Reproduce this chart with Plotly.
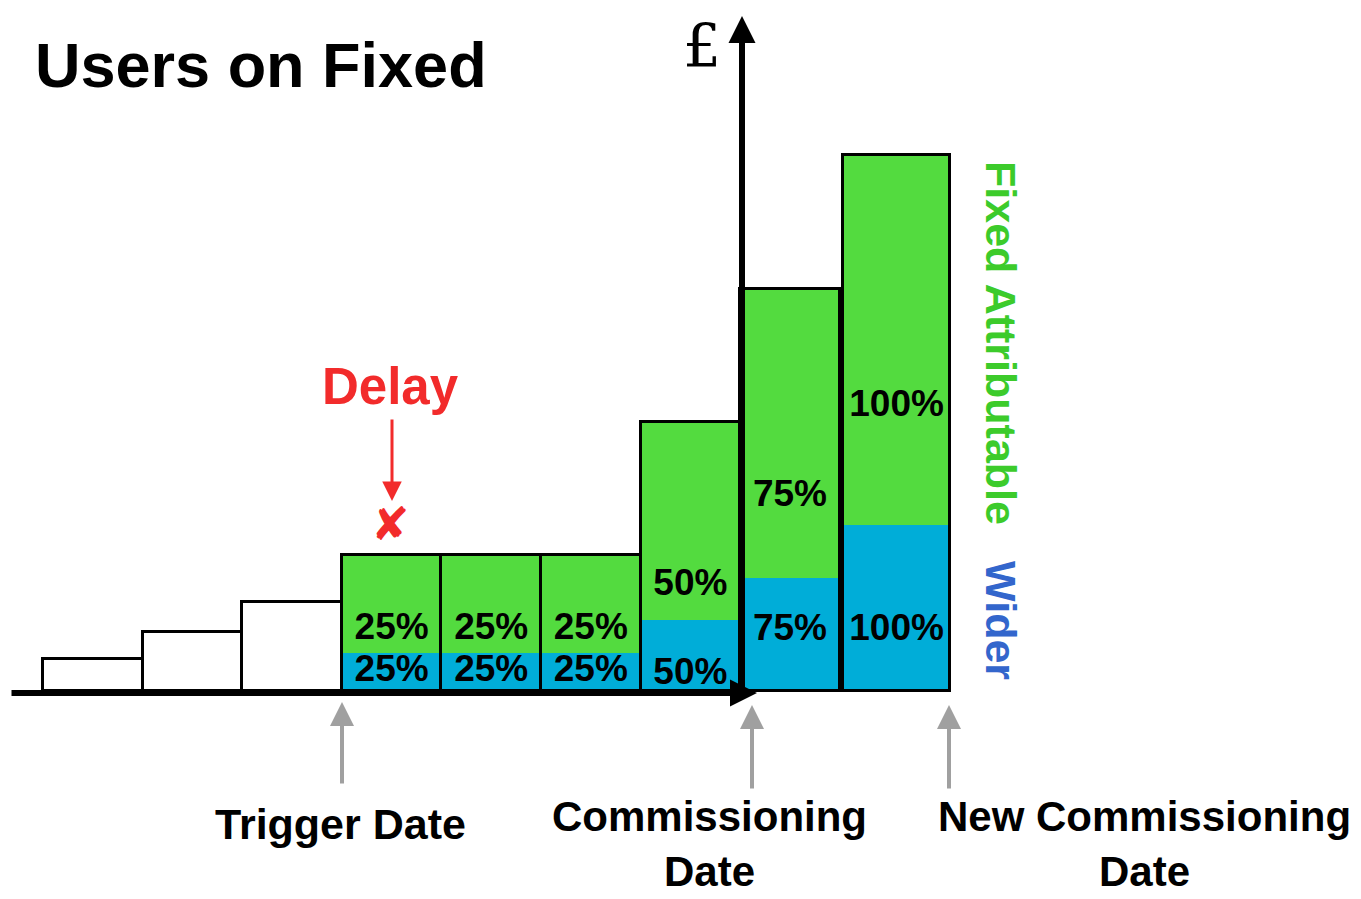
import plotly.graph_objects as go

# periods along the time axis, with the height of each payment bar (in £ units)
periods = ["P1", "P2", "P3", "P4", "P5", "P6", "P7", "P8", "P9"]
total = [32, 59, 89, 136, 136, 136, 269, 402, 536]
wider = [0, 0, 0, 38, 38, 38, 71, 113, 166]
wider_pct = ["", "", "", "25%", "25%", "25%", "50%", "75%", "100%"]
fixed_pct = ["", "", "", "25%", "25%", "25%", "50%", "75%", "100%"]

W, H = 1361, 899
OFF = 8  # page body margin
GREEN = "#53DB3F"
BLUE = "#00ADD8"
FONT = "Liberation Sans"

# bar widths (last one a bit wider and set slightly apart)
widths = [1.0] * 8 + [1.08]
gaps = [0.0] * 8 + [0.03]
centres = []
edge = 0.0
for w, g in zip(widths, gaps):
    edge += g
    centres.append(edge + w / 2)
    edge += w

fixed = [t - b for t, b in zip(total, wider)]
coloured = [b > 0 for b in wider]
white_y = [t if not c else 0 for t, c in zip(total, coloured)]
blue_y = [b if c else 0 for b, c in zip(wider, coloured)]
green_y = [f if c else 0 for f, c in zip(fixed, coloured)]

# where the percentage labels sit inside the bars
wider_lab_y = [0, 0, 0, 19, 19, 19, 16, 60, 60]
fixed_lab_y = [0, 0, 0, 61, 61, 61, 105, 194, 284]

fig = go.Figure()
fig.add_trace(go.Bar(x=centres, y=white_y, width=widths, marker=dict(color="white", line=dict(width=0))))
fig.add_trace(go.Bar(x=centres, y=blue_y, width=widths, marker=dict(color=BLUE, line=dict(width=0))))
fig.add_trace(go.Bar(x=centres, y=green_y, base=wider, width=widths, marker=dict(color=GREEN, line=dict(width=0))))
# black outline round each whole bar
fig.add_trace(go.Bar(x=centres, y=total, width=widths,
                     marker=dict(color="rgba(0,0,0,0)", line=dict(color="black", width=3))))

fig.add_trace(go.Scatter(x=centres, y=wider_lab_y, mode="text", text=["<b>%s</b>" % t for t in wider_pct],
                         textfont=dict(family=FONT, size=37, color="black")))
fig.add_trace(go.Scatter(x=centres, y=fixed_lab_y, mode="text", text=["<b>%s</b>" % t for t in fixed_pct],
                         textfont=dict(family=FONT, size=37, color="black")))


def px(x):
    return (x - OFF) / W


def py(y):
    return 1 - (y - OFF) / H


def arrow(x0, y0, x1, y1, color, width, head=2, size=1.0):
    # tail (x0, y0) -> tip (x1, y1), in pixels
    fig.add_annotation(xref="paper", yref="paper", x=px(x1), y=py(y1), ax=x0 - x1, ay=y0 - y1,
                       axref="pixel", ayref="pixel", text="", showarrow=True,
                       arrowhead=head, arrowsize=size, arrowwidth=width, arrowcolor=color)


def label(x, y, text, size, color="black", angle=0, family=FONT, yanchor="middle"):
    fig.add_annotation(xref="paper", yref="paper", x=px(x), y=py(y), text=text, showarrow=False,
                       xanchor="center", yanchor=yanchor, textangle=angle, align="center",
                       font=dict(family=family, size=size, color=color))


# axes drawn as arrows
arrow(742, 695, 742, 16, "black", 6, size=0.9)
arrow(10, 693, 757, 693, "black", 6, size=0.9)

# date markers
arrow(342, 785, 342, 702, "#A0A0A0", 4, size=1.2)
arrow(752, 790, 752, 705, "#A0A0A0", 4, size=1.2)
arrow(949, 790, 949, 705, "#A0A0A0", 4, size=1.2)

# delay marker
arrow(392, 418, 392, 501, "#F22B2B", 3, size=1.3)
label(390, 386, "<b>Delay</b>", 51, "#F22B2B")
label(390, 524, "<b>✘</b>", 46, "#F22B2B", family="DejaVu Sans")

label(261, 65, "<b>Users on Fixed</b>", 63)
label(702, 46, "£", 60, family="DejaVu Serif")

label(340, 824, "<b>Trigger Date</b>", 43)
label(709, 897, "<b>Commissioning</b><br><b>Date</b>", 42, yanchor="bottom")
label(1144, 897, "<b>New Commissioning</b><br><b>Date</b>", 42, yanchor="bottom")

label(1001, 343, "<b>Fixed Attributable</b>", 43, "#3CCB2B", angle=90)
label(1001, 620, "<b>Wider</b>", 43, "#3366CC", angle=90)

unit = 99.6
x_left = -(43 - OFF) / unit
y_base = 691 - OFF
fig.update_layout(
    width=W, height=H, margin=dict(l=0, r=0, t=0, b=0),
    barmode="overlay", bargap=0, showlegend=False,
    plot_bgcolor="white", paper_bgcolor="white",
    xaxis=dict(range=[x_left, x_left + W / unit], visible=False, fixedrange=True),
    yaxis=dict(range=[-(H - y_base), y_base], visible=False, fixedrange=True),
)

fig.write_html("out.html")
